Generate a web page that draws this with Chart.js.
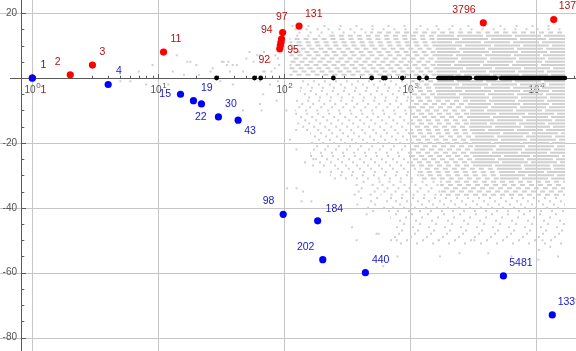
<!DOCTYPE html>
<html>
<head>
<meta charset="utf-8">
<script src="https://cdn.jsdelivr.net/npm/chart.js@4.4.1/dist/chart.umd.min.js"></script>
<style>
  html, body { margin: 0; padding: 0; background: #fff; overflow: hidden; }
  canvas { display: block; }
</style>
</head>
<body>
<canvas id="recordChart" width="576" height="351"></canvas>
<script>
// record highs (red) and record lows (blue), labelled with n
const redX = [1, 2, 3, 11, 92, 93, 94, 95, 97, 131, 3796, 13751];
const redY = [0, 1, 4, 8, 9, 10, 11, 12, 14, 16, 17, 18];
const redLabels = ['1', '2', '3', '11', '92', '', '94', '95', '97', '131', '3796', '13751'];

const blueX = [1, 4, 15, 19, 22, 30, 43, 98, 184, 202, 440, 5481, 13393];
const blueY = [0, -2, -5, -7, -8, -12, -13, -42, -44, -56, -60, -61, -73];
const blueLabels = ['1', '4', '15', '19', '22', '30', '43', '98', '184', '202', '440', '5481', '13393'];

// n where the value is 0 (black), single ones and dense runs
const zeroX = [29, 58, 65, 245, 494, 611, 634, 864, 1178, 1350];
const zeroRuns = [[1670, 2200], [2300, 2980], [3320, 4790], [5240, 16870]];

// all the other values (light gray), scattered ones
const grayDots = [
  [5, -1], [6, -1], [7, 2], [8, -2], [9, 4], [12, -2], [13, 2], [14, 7], [16, 1], [17, 5],
  [18, 5], [20, 4], [21, 1], [26, 2], [27, 3], [31, -1], [32, 5], [33, 5], [35, 4], [36, 5],
  [37, 2], [39, 4], [42, 4], [47, 2], [50, 6], [53, 8], [57, 5], [61, 7], [64, 7], [68, 2],
  [69, 8], [70, 2], [77, 5], [79, 2], [84, 3], [85, 7], [89, 6], [91, 4],
  [39, -2], [64, -1], [77, -2], [89, -1], [64, -8], [66, -10], [47, -10], [68, -5], [87, -7],
  [104, -10], [111, -19], [125, -22], [146, -26], [170, -25], [192, -29], [105, -34],
  [125, -34], [141, -35], [137, -38], [164, -38], [380, -39], [450, -42], [345, -46],
  [560, -48], [375, -50], [540, -48], [780, -50], [1670, -50], [3230, -50], [4160, -54],
  [2450, -54], [610, -58], [790, -55], [1720, -55], [6350, -55], [10400, -56], [12900, -52],
  [11200, -50], [14900, -55], [10500, -53]
];

// rows of light gray values: y, very sparse from, sparse from, dashed from, dense from, up to n
const grayRows = [
  [16, 114, null, null, null, 13500],
  [15, null, 110, null, null, 16900],
  [14, null, 110, 480, null, 16900],
  [13, null, 120, 230, 1630, 16900],
  [12, null, null, 110, 1630, 16900],
  [11, null, null, 110, 1630, 16900],
  [10, null, null, 110, 1630, 16900],
  [9, null, null, 110, 1630, 16900],
  [8, null, null, 110, 1630, 16900],
  [7, null, null, 110, 1630, 16900],
  [6, null, null, 110, 1630, 16900],
  [5, null, null, 110, 1630, 16900],
  [4, null, null, 110, 1630, 16900],
  [3, null, null, 110, 1630, 16900],
  [2, null, null, 110, 1630, 16900],
  [1, null, null, 110, 1630, 16900],
  [-1, null, 133, 995, 1630, 16900],
  [-2, null, 133, 995, 1630, 16900],
  [-3, null, 133, 995, 1630, 16900],
  [-4, null, 133, 995, 1630, 16900],
  [-5, null, 133, 995, 1630, 16900],
  [-6, null, 133, 995, 1630, 16900],
  [-7, null, 122, 995, 2980, 16900],
  [-8, null, 122, 995, 2980, 16900],
  [-9, null, 122, 995, 2980, 16900],
  [-10, null, 122, 995, 2980, 16900],
  [-11, null, 122, 995, 2980, 16900],
  [-12, null, 122, 995, 2980, 16900],
  [-13, null, 122, 995, 2980, 16900],
  [-14, null, 122, 995, 2980, 16900],
  [-15, null, 122, 995, 2980, 16900],
  [-16, null, 122, 995, 2980, 16900],
  [-17, null, 160, 995, 3260, 16900],
  [-18, null, 160, 995, 3260, 16900],
  [-19, null, 160, 995, 3260, 16900],
  [-20, null, 160, 995, 3260, 16900],
  [-21, null, 160, 995, 3260, 16900],
  [-22, null, 160, 995, 3260, 16900],
  [-23, null, 160, 995, 3260, 16900],
  [-24, null, 160, 995, 3260, 16900],
  [-25, null, 160, 995, 3260, 16900],
  [-26, null, 160, 995, 3260, 16900],
  [-27, null, 160, 995, 3260, 16900],
  [-28, null, 230, 1190, 5150, 16900],
  [-29, null, 230, 1190, 5150, 16900],
  [-30, null, 230, 1190, 5150, 16900],
  [-31, null, 230, 1190, 5150, 16900],
  [-32, 330, 580, 1720, null, 16900],
  [-33, 330, 580, 1720, null, 16900],
  [-34, 330, 580, 1720, null, 16900],
  [-35, 330, 580, 1720, null, 16900],
  [-36, 330, 580, 1720, null, 16900],
  [-37, 400, 690, null, null, 16900],
  [-38, 400, 690, null, null, 16900],
  [-39, 400, 690, null, null, 16900],
  [-40, 400, 690, null, null, 16900],
  [-41, 400, 690, null, null, 16900],
  [-42, 690, null, null, null, 16900],
  [-43, 690, null, null, null, 16900],
  [-44, 690, null, null, null, 16900],
  [-45, 690, null, null, null, 16900],
  [-46, 690, null, null, null, 16900],
  [-47, 690, null, null, null, 16900],
  [-48, 690, null, null, null, 16900],
  [-49, 690, null, null, null, 16900],
  [-50, 690, null, null, null, 16900],
  [-51, 690, null, null, null, 16900]
];

const xTicks = [1, 10, 100, 1000, 10000];
const xTickExp = ['0', '1', '2', '3', '4'];
const yTicks = [20, -20, -40, -60, -80];

// where each callout sits relative to its point (px)
const labelOffsets = {
  r1: [11, 12], r2: [-12.5, -13], r3: [10, -13], r11: [12.4, -12.6], r92: [-15.5, 11],
  r94: [-14.2, -12.6], r95: [11.6, 11.2], r97: [-0.8, -15.6], r131: [14.7, -12.3],
  r3796: [-19.4, -12.8], r13751: [19.5, -13.4],
  b1: [11, -13], b4: [10.7, -13.6], b15: [-15.3, -0.6], b19: [13.4, -12.3], b22: [-0.7, 13.2],
  b30: [12.5, -12.6], b43: [12, 11.3], b98: [-14.6, -13], b184: [16.7, -12], b202: [-17.1, -13],
  b440: [15.3, -13], b5481: [17.5, -12.6], b13393: [20, -13]
};

const GRAY = '#d0d0d0';
const FONT = '"Liberation Sans", Arial, sans-serif';
const dashFor = { v: [2, 14], s: [2, 9], d: [5, 4], f: [26, 3] };
// shifts the dash pattern row to row so the dots don't line up in columns
const dashShift = [0, 6, 2, 9, 4, 11, 1, 7, 3, 10, 5, 8, 12];

// bottom layer first; reversed at the end since Chart.js paints dataset 0 last
const layers = [];

grayRows.forEach(function (row, i) {
  const y = row[0];
  const starts = [['v', row[1]], ['s', row[2]], ['d', row[3]], ['f', row[4]]].filter(p => p[1] != null);
  starts.forEach(function (p, k) {
    const x1 = k + 1 < starts.length ? starts[k + 1][1] : row[5];
    layers.push({
      type: 'line',
      data: [{ x: p[1], y: y }, { x: x1, y: y }],
      borderColor: GRAY,
      borderWidth: 2,
      borderDash: dashFor[p[0]],
      borderDashOffset: dashShift[i % dashShift.length],
      pointRadius: 0,
      tension: 0
    });
  });
});

layers.push({
  type: 'scatter',
  data: grayDots.map(d => ({ x: d[0], y: d[1] })),
  pointStyle: 'rect',
  pointRadius: 1.42,
  backgroundColor: GRAY,
  borderWidth: 0
});

zeroRuns.forEach(function (r) {
  layers.push({
    type: 'line',
    data: [{ x: r[0], y: 0 }, { x: r[1], y: 0 }],
    borderColor: '#000',
    borderWidth: 4.6,
    borderCapStyle: 'round',
    pointRadius: 0
  });
});

layers.push({
  type: 'scatter',
  data: zeroX.map(x => ({ x: x, y: 0 })),
  pointRadius: 2.4,
  backgroundColor: '#000',
  borderWidth: 0
});

layers.push({
  type: 'scatter',
  label: 'red',
  data: redX.map((x, i) => ({ x: x, y: redY[i] })),
  pointRadius: 3.6,
  backgroundColor: '#ff0000',
  borderWidth: 0
});

layers.push({
  type: 'scatter',
  label: 'blue',
  data: blueX.map((x, i) => ({ x: x, y: blueY[i] })),
  pointRadius: 3.6,
  backgroundColor: '#0000ff',
  borderWidth: 0
});

const datasets = layers.reverse();

const axesPlugin = {
  id: 'mmaAxes',
  beforeDatasetsDraw(chart) {
    const ctx = chart.ctx;
    const xs = chart.scales.x, ys = chart.scales.y;
    const area = chart.chartArea;
    const x0 = xs.getPixelForValue(0.818);   // where the vertical axis sits
    const y0 = ys.getPixelForValue(0);
    ctx.save();

    // grid lines
    ctx.strokeStyle = '#c6c6c6';
    ctx.lineWidth = 1;
    xTicks.forEach(v => {
      const px = Math.round(xs.getPixelForValue(v)) + 0.5;
      ctx.beginPath(); ctx.moveTo(px, area.top); ctx.lineTo(px, area.bottom); ctx.stroke();
    });
    yTicks.forEach(v => {
      const py = Math.round(ys.getPixelForValue(v)) + 0.5;
      ctx.beginPath(); ctx.moveTo(area.left, py); ctx.lineTo(area.right, py); ctx.stroke();
    });

    // axes
    ctx.strokeStyle = '#5a5a5a';
    const ay = Math.round(y0) + 0.5, ax = Math.round(x0) + 0.5;
    ctx.beginPath(); ctx.moveTo(10, ay); ctx.lineTo(area.right, ay); ctx.stroke();
    ctx.beginPath(); ctx.moveTo(ax, area.top); ctx.lineTo(ax, area.bottom); ctx.stroke();

    // x ticks (upwards)
    for (let d = 0; d <= 4; d++) {
      for (let m = 1; m <= 9; m++) {
        const v = m * Math.pow(10, d);
        if (v > xs.max) continue;
        const px = Math.round(xs.getPixelForValue(v)) + 0.5;
        const len = m === 1 ? 4.5 : 2.8;
        ctx.beginPath(); ctx.moveTo(px, ay); ctx.lineTo(px, ay - len); ctx.stroke();
      }
    }
    // y ticks (to the right)
    for (let v = -80; v <= 20; v += 5) {
      if (v === 0) continue;
      const py = Math.round(ys.getPixelForValue(v)) + 0.5;
      const len = v % 20 === 0 ? 4.5 : 2.8;
      ctx.beginPath(); ctx.moveTo(ax, py); ctx.lineTo(ax + len, py); ctx.stroke();
    }

    // tick labels
    ctx.fillStyle = '#555';
    ctx.textBaseline = 'alphabetic';
    xTicks.forEach((v, i) => {
      const px = xs.getPixelForValue(v);
      ctx.font = '10px ' + FONT;
      const w1 = ctx.measureText('10').width;
      ctx.font = '8px ' + FONT;
      const w2 = ctx.measureText(xTickExp[i]).width;
      const start = px - (w1 + w2) / 2;
      ctx.font = '10px ' + FONT;
      ctx.textAlign = 'left';
      ctx.fillText('10', start, y0 + 15);
      ctx.font = '8px ' + FONT;
      ctx.fillText(xTickExp[i], start + w1 + 0.5, y0 + 10);
    });
    ctx.font = '10px ' + FONT;
    ctx.textAlign = 'right';
    ctx.textBaseline = 'middle';
    yTicks.forEach(v => {
      ctx.fillText(String(v), 17, ys.getPixelForValue(v));
    });
    ctx.restore();
  }
};

const calloutPlugin = {
  id: 'callouts',
  afterDatasetsDraw(chart) {
    const ctx = chart.ctx;
    const xs = chart.scales.x, ys = chart.scales.y;
    ctx.save();
    ctx.font = '10.5px ' + FONT;
    ctx.textAlign = 'center';
    ctx.textBaseline = 'middle';
    const put = (xv, yv, lbls, prefix, color) => {
      ctx.fillStyle = color;
      xv.forEach((x, i) => {
        const txt = lbls[i];
        if (!txt) return;
        const off = labelOffsets[prefix + txt] || [10, -12];
        ctx.fillText(txt, xs.getPixelForValue(x) + off[0], ys.getPixelForValue(yv[i]) + off[1]);
      });
    };
    put(redX, redY, redLabels, 'r', '#b01515');
    put(blueX, blueY, blueLabels, 'b', '#1818c8');
    ctx.restore();
  }
};

new Chart(document.getElementById('recordChart').getContext('2d'), {
  data: { datasets: datasets },
  options: {
    responsive: false,
    animation: false,
    events: [],
    layout: { padding: 0, autoPadding: false },
    plugins: { legend: { display: false }, tooltip: { enabled: false } },
    scales: {
      x: { type: 'logarithmic', min: 0.554, max: 20660, display: false },
      y: { type: 'linear', min: -84.13, max: 24.04, display: false }
    }
  },
  plugins: [axesPlugin, calloutPlugin]
});
</script>
</body>
</html>
